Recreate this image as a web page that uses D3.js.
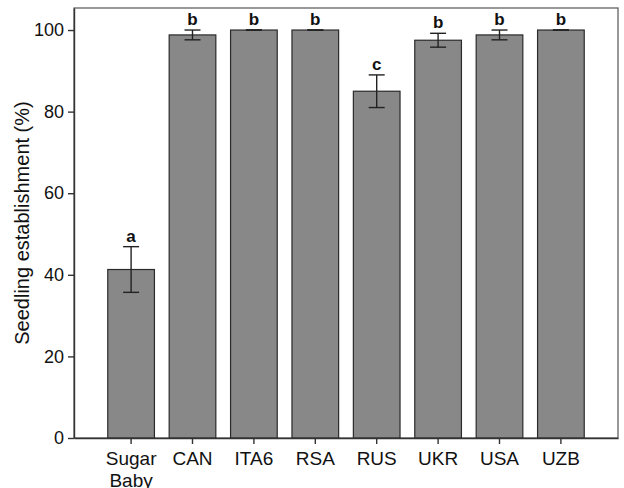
<!DOCTYPE html>
<html>
<head>
<meta charset="utf-8">
<script src="https://cdn.jsdelivr.net/npm/d3@7"></script>
<style>
  body { margin: 0; background: #fff; }
  svg text { font-family: Arial, "Liberation Sans", sans-serif; }
</style>
</head>
<body>
<div id="chart"></div>
<script>
// data
const categories = ["Sugar Baby", "CAN", "ITA6", "RSA", "RUS", "UKR", "USA", "UZB"];
const means = [41.3, 98.8, 100, 100, 85.0, 97.5, 98.8, 100];
const errors = [5.6, 1.2, 0, 0, 4.0, 1.7, 1.2, 0];
const letters = ["a", "b", "b", "b", "c", "b", "b", "b"];
const yTicks = [0, 20, 40, 60, 80, 100];

const width = 624;
const height = 488;
const margin = { top: 8, right: 6, bottom: 50, left: 74 };

const data = categories.map((c, i) => ({ cat: c, mean: means[i], err: errors[i], letter: letters[i] }));

const svg = d3.select("#chart")
    .append("svg")
    .attr("width", width)
    .attr("height", height);

const x = d3.scaleBand()
    .domain(categories)
    .range([margin.left, width - margin.right])
    .paddingInner(0.24)
    .paddingOuter(0.55);

const y = d3.scaleLinear()
    .domain([0, 105.4])
    .range([height - margin.bottom, margin.top]);

// frame
svg.append("rect")
    .attr("x", margin.left)
    .attr("y", margin.top)
    .attr("width", width - margin.right - margin.left)
    .attr("height", height - margin.bottom - margin.top)
    .attr("fill", "none")
    .attr("stroke", "#555")
    .attr("stroke-width", 1.2);

// bars
svg.append("g")
    .selectAll("rect")
    .data(data)
    .join("rect")
    .attr("x", d => x(d.cat))
    .attr("y", d => y(d.mean))
    .attr("width", x.bandwidth())
    .attr("height", d => y(0) - y(d.mean))
    .attr("fill", "#888")
    .attr("stroke", "#2a2a2a")
    .attr("stroke-width", 1.2);

// error bars
const eb = svg.append("g")
    .attr("stroke", "#222")
    .attr("stroke-width", 1.4);
const cap = 8;
data.forEach(d => {
  const cx = x(d.cat) + x.bandwidth() / 2;
  eb.append("line")
      .attr("x1", cx).attr("x2", cx)
      .attr("y1", y(d.mean + d.err)).attr("y2", y(d.mean - d.err));
  eb.append("line")
      .attr("x1", cx - cap).attr("x2", cx + cap)
      .attr("y1", y(d.mean + d.err)).attr("y2", y(d.mean + d.err));
  eb.append("line")
      .attr("x1", cx - cap).attr("x2", cx + cap)
      .attr("y1", y(d.mean - d.err)).attr("y2", y(d.mean - d.err));
});

// significance letters
svg.append("g")
    .selectAll("text")
    .data(data)
    .join("text")
    .attr("x", d => x(d.cat) + x.bandwidth() / 2)
    .attr("y", d => y(d.mean + d.err) - 5)
    .attr("text-anchor", "middle")
    .attr("font-size", 17)
    .attr("font-weight", "bold")
    .attr("fill", "#111")
    .text(d => d.letter);

// x axis
const xAxis = svg.append("g")
    .attr("transform", `translate(0,${height - margin.bottom})`)
    .call(d3.axisBottom(x).tickSize(6).tickSizeOuter(0).tickFormat(""));
xAxis.select(".domain").attr("stroke", "#333").attr("stroke-width", 1.4);
xAxis.selectAll(".tick line").attr("stroke", "#333").attr("stroke-width", 1.4);

xAxis.selectAll(".tick").each(function(d) {
  const t = d3.select(this).append("text")
      .attr("fill", "#111")
      .attr("font-size", 19)
      .attr("text-anchor", "middle")
      .attr("y", 27);
  d.split(" ").forEach((w, i) => {
    t.append("tspan").attr("x", 0).attr("dy", i === 0 ? 0 : 21.5).text(w);
  });
});

// y axis
const yAxis = svg.append("g")
    .attr("transform", `translate(${margin.left},0)`)
    .call(d3.axisLeft(y).tickValues(yTicks).tickSize(6).tickSizeOuter(0).tickPadding(4));
yAxis.select(".domain").attr("stroke", "#333").attr("stroke-width", 1.4);
yAxis.selectAll(".tick line").attr("stroke", "#333").attr("stroke-width", 1.4);
yAxis.selectAll(".tick text")
    .attr("font-size", 18)
    .attr("fill", "#111")
    .attr("font-family", "Arial, 'Liberation Sans', sans-serif");

svg.append("text")
    .attr("transform", `translate(29,${(margin.top + height - margin.bottom) / 2}) rotate(-90)`)
    .attr("text-anchor", "middle")
    .attr("font-size", 20)
    .attr("fill", "#111")
    .text("Seedling establishment (%)");
</script>
</body>
</html>
